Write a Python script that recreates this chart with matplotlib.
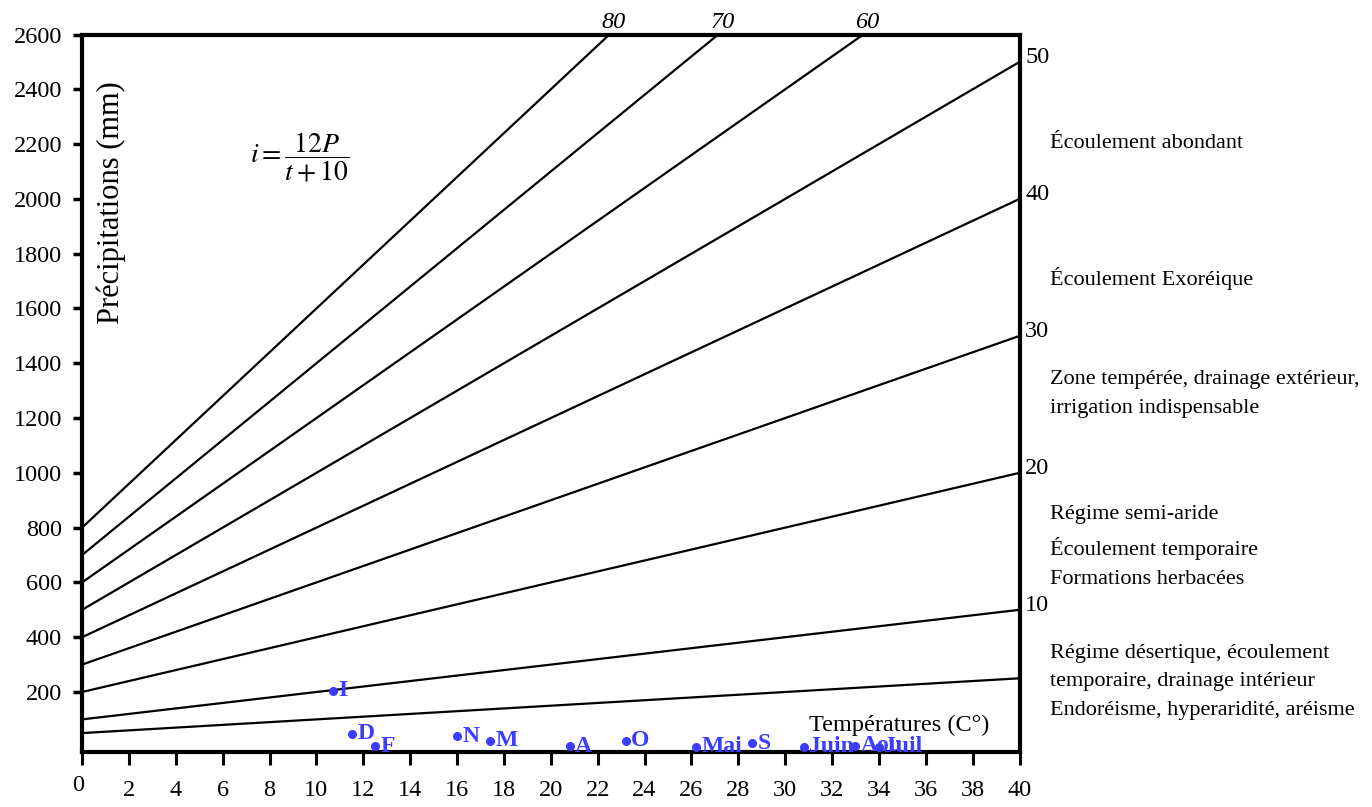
import matplotlib.pyplot as plt

plt.rcParams['font.family'] = ['Liberation Serif', 'DejaVu Serif']
plt.rcParams['mathtext.fontset'] = 'stix'

# Isolignes de l'indice d'aridité : P (mm) à t = 0 °C et à t = 40 °C
indices = [5, 10, 20, 30, 40, 50, 60, 70, 80]
p_t0 = [50, 100, 200, 300, 400, 500, 600, 700, 800]
p_t40 = [250, 500, 1000, 1500, 2000, 2500, 3000, 3500, 4000]
t_bornes = [0, 40]

# Points mensuels (température moyenne, précipitations)
mois = ['I', 'D', 'F', 'N', 'M', 'A', 'O', 'Mai', 'S', 'Juin', 'Aou', 'Juil']
temperature = [10.7, 11.5, 12.5, 16.0, 17.4, 20.8, 23.2, 26.2, 28.6, 30.8, 33.0, 34.0]
precipitation = [205, 47, 2, 39, 22, 2, 22, 0, 13, 0, 3, 0]

# Zones du diagramme (texte à droite)
zones = [
    'Écoulement abondant',
    'Écoulement Exoréique',
    'Zone tempérée, drainage extérieur,\nirrigation indispensable',
    'Régime semi-aride\nÉcoulement temporaire\nFormations herbacées',
    'Régime désertique, écoulement\ntemporaire, drainage intérieur\nEndoréisme, hyperaridité, aréisme',
]
zones_y = [0.8228, 0.6555, 0.5118, 0.3222, 0.1549]

x_ticks = list(range(0, 41, 2))
y_ticks = list(range(200, 2601, 200))

bleu = '#3c3cff'
y_max = 2600

fig = plt.figure(figsize=(13.72, 8.07), dpi=100)
ax = fig.add_axes([0.0598, 0.0685, 0.6833, 0.8887])

# isolignes
for i, p0, p1 in zip(indices, p_t0, p_t40):
    ax.plot(t_bornes, [p0, p1], color='black', lw=1.6, solid_capstyle='butt')
    if i == 5:
        continue
    if p1 <= y_max:
        ax.annotate(str(i), xy=(t_bornes[1], p1), xytext=(4, 3),
                    textcoords='offset points', ha='left', va='center',
                    fontsize=17.5, annotation_clip=False)
    else:
        # point où la droite sort par le haut du cadre
        t_haut = t_bornes[0] + (y_max - p0) * (t_bornes[1] - t_bornes[0]) / (p1 - p0)
        ax.annotate(str(i), xy=(t_haut, y_max), xytext=(3, 9),
                    textcoords='offset points', ha='center', va='center',
                    fontsize=17.5, style='italic', annotation_clip=False)

# mois
ax.plot(temperature, precipitation, 'o', ms=5.5, color=bleu, clip_on=False, zorder=5)
for nom, t, p in zip(mois, temperature, precipitation):
    ax.annotate(nom, xy=(t, p), xytext=(4, 0), textcoords='offset points',
                ha='left', va='center', color=bleu, fontweight='bold',
                fontsize=17, annotation_clip=False, zorder=6)

ax.set_xlim(0, 40)
ax.set_ylim(-18, y_max)
ax.set_xticks(x_ticks)
ax.set_xticklabels([''] + [str(v) for v in x_ticks[1:]])
ax.set_yticks(y_ticks)
ax.tick_params(axis='x', direction='out', length=9.5, width=2.2, pad=11, labelsize=17.5)
ax.tick_params(axis='y', direction='out', length=6.5, width=2.5, pad=8, labelsize=17.5)
for s in ax.spines.values():
    s.set_linewidth(3)

ax.annotate('0', xy=(0, 0), xycoords='axes fraction', xytext=(-3, -24),
            textcoords='offset points', ha='center', va='center', fontsize=17.5)

ax.text(0.031, 0.766, 'Précipitations (mm)', rotation=90, transform=ax.transAxes,
        ha='center', va='center', fontsize=22)
ax.text(0.2325, 0.829, r'$i=\dfrac{12P}{t+10}$', transform=ax.transAxes,
        ha='center', va='center', fontsize=20)
ax.text(0.8715, 0.0372, 'Températures (C°)', transform=ax.transAxes,
        ha='center', va='center', fontsize=17.5)

for txt, y in zip(zones, zones_y):
    fig.text(0.765, y, txt, ha='left', va='center', fontsize=16, linespacing=1.7)

fig.savefig('out.png', dpi=100)
